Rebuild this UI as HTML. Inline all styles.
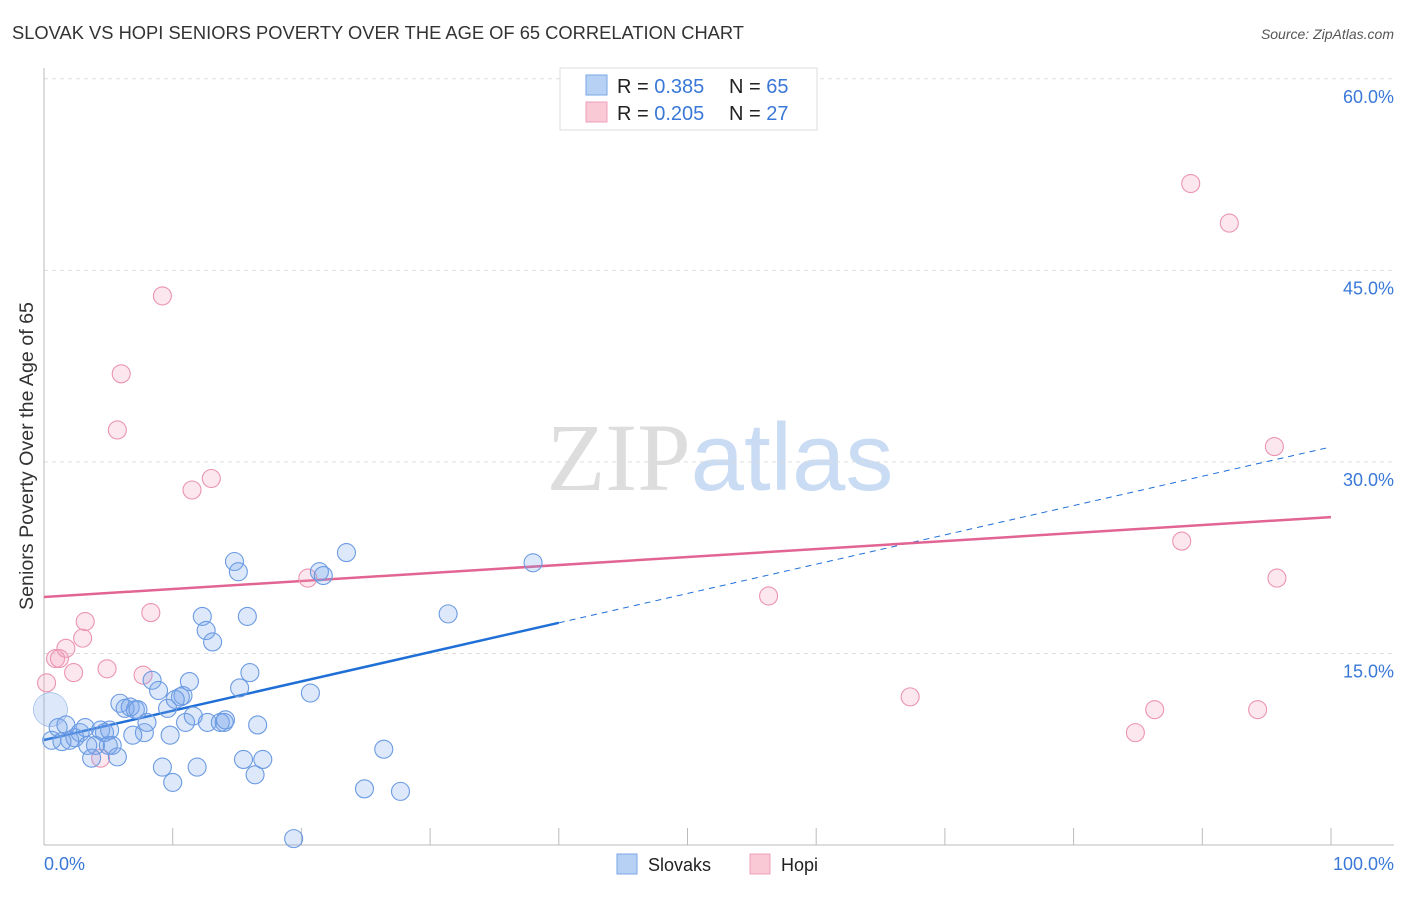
<!DOCTYPE html>
<html><head><meta charset="utf-8"><style>
body{margin:0;background:#fff;font-family:"Liberation Sans",sans-serif;}
svg text{font-family:"Liberation Sans",sans-serif;}
</style></head><body>
<svg id="chart" width="1406" height="892" xmlns="http://www.w3.org/2000/svg">
<text x="12" y="39" font-size="18" fill="#333" textLength="732" lengthAdjust="spacingAndGlyphs">SLOVAK VS HOPI SENIORS POVERTY OVER THE AGE OF 65 CORRELATION CHART</text>
<text x="1394" y="39" font-size="14" fill="#555" text-anchor="end" font-style="italic">Source: ZipAtlas.com</text>
<text x="720" y="490" font-size="96" text-anchor="middle"><tspan fill="#ddd" font-family="Liberation Serif,serif">ZIP</tspan><tspan fill="#c9dcf3">atlas</tspan></text>
<g id="grid"></g>
<g id="axes"></g>
<g id="trend"></g>
<g id="points"></g>
<text transform="translate(33,456) rotate(-90)" font-size="19" fill="#333" text-anchor="middle" textLength="308" lengthAdjust="spacingAndGlyphs">Seniors Poverty Over the Age of 65</text>
<text x="44" y="870" font-size="18" fill="#3a78d8">0.0%</text>
<text x="1394" y="870" font-size="18" fill="#3a78d8" text-anchor="end">100.0%</text>
<g>
<rect x="560" y="68" width="257" height="62" fill="#fff" stroke="#ddd"/>
<rect x="586" y="75" width="21" height="20" fill="#b7d1f5" stroke="#7aa6e6"/>
<rect x="586" y="102" width="21" height="20" fill="#f9c9d6" stroke="#eea0b8"/>
<text x="617" y="93" font-size="20" fill="#222">R = <tspan fill="#3a78d8">0.385</tspan></text>
<text x="729" y="93" font-size="20" fill="#222">N = <tspan fill="#3a78d8">65</tspan></text>
<text x="617" y="120" font-size="20" fill="#222">R = <tspan fill="#3a78d8">0.205</tspan></text>
<text x="729" y="120" font-size="20" fill="#222">N = <tspan fill="#3a78d8">27</tspan></text>
</g>
<g>
<rect x="617" y="854" width="20" height="20" fill="#b7d1f5" stroke="#7aa6e6"/>
<text x="648" y="871" font-size="18" fill="#222">Slovaks</text>
<rect x="750" y="854" width="20" height="20" fill="#f9c9d6" stroke="#eea0b8"/>
<text x="781" y="871" font-size="18" fill="#222">Hopi</text>
</g>
</svg>
<script>
const slovakX=[0.6,0.5,1.1,1.7,2.0,2.4,2.8,3.2,3.7,4.0,4.4,4.7,5.0,5.3,5.7,5.9,6.3,6.7,7.1,7.3,7.8,8.0,8.4,8.9,9.2,9.6,9.8,10.0,10.6,10.8,11.0,11.3,11.6,11.9,12.3,12.6,13.1,12.7,13.7,14.0,14.8,15.1,15.2,15.5,15.8,16.0,16.4,16.6,17.0,19.4,20.7,21.4,21.7,23.5,24.9,26.4,27.7,31.4,38.0,6.9,5.1,3.4,1.4,10.2,14.1];
const slovakY=[8.2,10.6,9.2,9.4,8.2,8.4,8.8,9.2,6.8,7.8,9.0,8.8,7.8,7.8,6.9,11.1,10.7,10.8,10.6,10.6,8.8,9.6,12.9,12.1,6.1,10.7,8.6,4.9,11.6,11.7,9.6,12.8,10.1,6.1,17.9,16.8,15.9,9.6,9.6,9.6,22.2,21.4,12.3,6.7,17.9,13.5,5.5,9.4,6.7,0.5,11.9,21.4,21.1,22.9,4.4,7.5,4.2,18.1,22.1,8.6,9.0,7.8,8.1,11.4,9.8];
const hopiX=[0.2,0.9,1.2,1.7,2.3,3.0,3.2,4.4,4.9,5.7,6.0,7.7,8.3,9.2,11.5,13.0,20.5,56.3,67.3,84.8,86.3,88.4,89.1,92.1,94.3,95.6,95.8];
const hopiY=[12.7,14.6,14.6,15.4,13.5,16.2,17.5,6.8,13.8,32.5,36.9,13.3,18.2,43.0,27.8,28.7,20.9,19.5,11.6,8.8,10.6,23.8,51.8,48.7,10.6,31.2,20.9];
const yTicks=[15,30,45,60];
const yTickLabels=["15.0%","30.0%","45.0%","60.0%"];
const xTicks=[10,20,30,40,50,60,70,80,90,100];
const slovakTrend=[8.22,31.17];
const hopiTrend=[19.42,25.68];
const slovakSolidEnd=40;

const NS="http://www.w3.org/2000/svg";
const sx=v=>44+v*12.87, sy=v=>845-v*12.77;
function mk(tag,attrs,parent){const e=document.createElementNS(NS,tag);for(const k in attrs)e.setAttribute(k,attrs[k]);document.getElementById(parent).appendChild(e);return e;}
yTicks.forEach((t,i)=>{
 const l=mk('line',{x1:44,x2:1394,y1:sy(t),y2:sy(t),stroke:'#ddd','stroke-dasharray':'4,4'},'grid');
 
 
 const tx=mk('text',{x:1394,y:sy(t)+24,'font-size':18,fill:'#3a78d8','text-anchor':'end'},'grid');
 tx.textContent=yTickLabels[i];
 
 
});
const ax=mk('line',{x1:44,x2:44,y1:68,y2:845,stroke:'#bbb'},'axes');


const bx=mk('line',{x1:44,x2:1394,y1:845,y2:845,stroke:'#bbb'},'axes');


xTicks.forEach(t=>{
 const l=mk('line',{x1:sx(t),x2:sx(t),y1:828,y2:845,stroke:'#bbb'},'axes');
 
 
});
const lin=(tr,x)=>tr[0]+(tr[1]-tr[0])*x/100;
const t1=mk('line',{x1:sx(0),y1:sy(lin(slovakTrend,0)),x2:sx(slovakSolidEnd),y2:sy(lin(slovakTrend,slovakSolidEnd)),stroke:'#1f6fd6','stroke-width':2.5},'trend');


const t2=mk('line',{x1:sx(slovakSolidEnd),y1:sy(lin(slovakTrend,slovakSolidEnd)),x2:sx(100),y2:sy(lin(slovakTrend,100)),stroke:'#1f6fd6','stroke-width':1,'stroke-dasharray':'6,5'},'trend');


const t3=mk('line',{x1:sx(0),y1:sy(lin(hopiTrend,0)),x2:sx(100),y2:sy(lin(hopiTrend,100)),stroke:'#e26493','stroke-width':2.5},'trend');


hopiX.forEach((x,i)=>{
 const c=mk('circle',{cx:sx(x),cy:sy(hopiY[i]),r:9,fill:'rgba(244,160,188,0.25)',stroke:'#eb94b0','stroke-width':1.1},'points');
 
 
});
slovakX.forEach((x,i)=>{
 const c=mk('circle',{cx:sx(x),cy:sy(slovakY[i]),r:i===1?17:9,fill:'rgba(120,165,235,0.25)',stroke:'#6b9be2','stroke-width':i===1?0.5:1.1},'points');
 
 
});
</script>
</body></html>
